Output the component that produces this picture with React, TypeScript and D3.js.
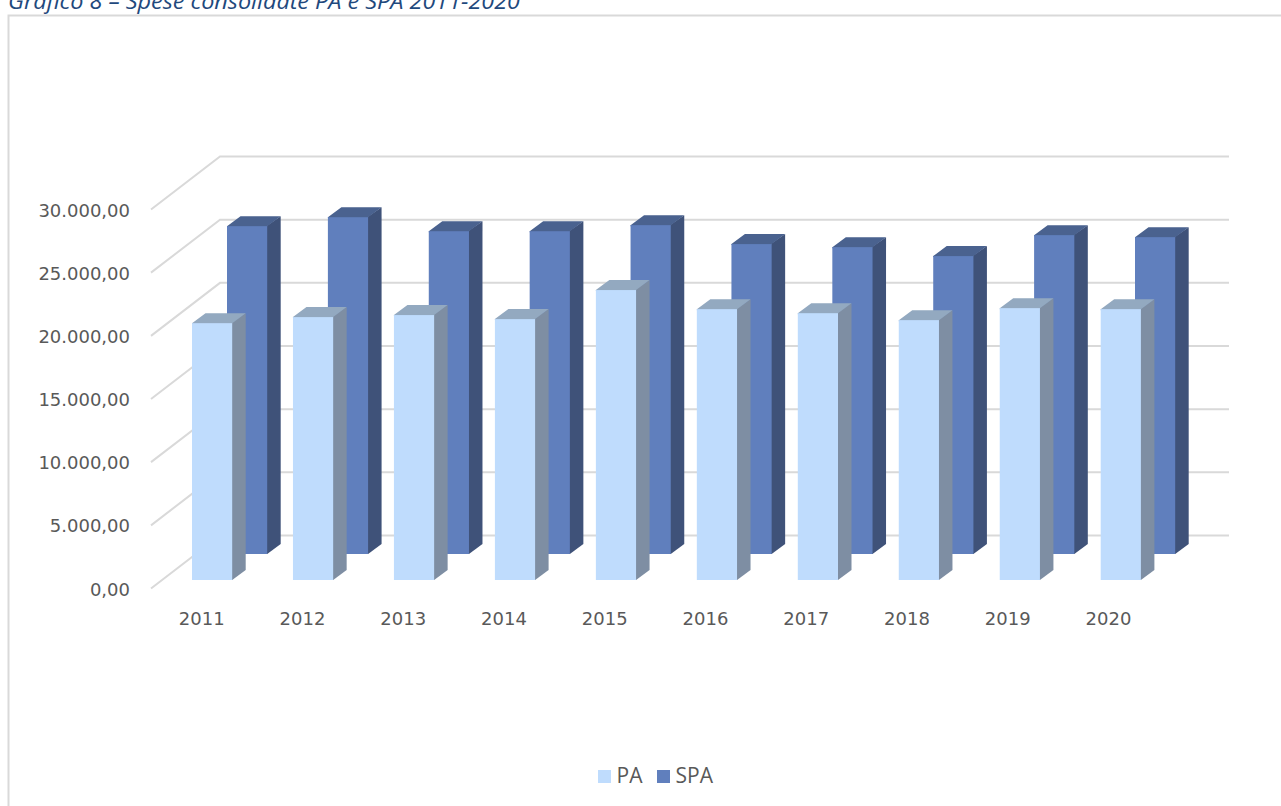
import React from "react";
import * as d3 from "d3";

const years = ["2011","2012","2013","2014","2015","2016","2017","2018","2019","2020"];
const paValues = [20330,20810,20970,20650,22950,21440,21120,20570,21520,21440];
const spaValues = [25950,26660,25550,25550,26030,24530,24290,23580,25240,25080];
const yTicks = [0,5000,10000,15000,20000,25000,30000];
const titleText = "Grafico 8 – Spese consolidate PA e SPA 2011-2020";

const fmt = (v: number) => d3.format(",.2f")(v).replace(/,/g, "#").replace(".", ",").replace(/#/g, ".");

const depthX = 13.5, depthY = 10, barW = 40.2;
const xPA = d3.scaleLinear().domain([0, 9]).range([192, 1100.7]);
const xSPA = d3.scaleLinear().domain([0, 9]).range([227, 1135]);
const xLabel = d3.scaleLinear().domain([0, 9]).range([201.7, 1108.5]);
const h = d3.scaleLinear().domain([0, 30000]).range([0, 379]);
const yWall = (v: number) => 535.5 - h(v);
const yLeft = (v: number) => 588 - h(v);
const yLabel = (v: number) => 595.5 - h(v);

function Bar({ x, base, value, front, top, side }: { x: number; base: number; value: number; front: string; top: string; side: string }) {
  const t = base - h(value);
  const pts = (a: [number, number][]) => a.map((p) => p.join(",")).join(" ");
  const r = x + barW;
  return (
    <g>
      <polygon fill={side} points={pts([[r - 1, t], [r + depthX, t - depthY], [r + depthX, base - depthY], [r, base], [r - 1, base]])} />
      <polygon fill={top} points={pts([[x, t + 1], [x, t], [x + depthX, t - depthY], [r + depthX, t - depthY], [r, t], [r, t + 1]])} />
      <rect x={x} y={t} width={barW} height={base - t} fill={front} />
    </g>
  );
}

export default function App() {
  const font = "'DejaVu Sans', sans-serif";
  const grey = "#595959";
  return (
    <svg width={1281} height={806} style={{ position: "fixed", left: 0, top: 0, background: "#fff" }}>
      <text x={8} y={9} fontFamily="'Open Sans', 'Noto Sans', sans-serif" fontStyle="italic" fontSize={21} fill="#1f497d" textLength={512} lengthAdjust="spacingAndGlyphs">{titleText}</text>
      <path d="M8.5 807V15.5H1282" fill="none" stroke="#d9d9d9" strokeWidth={2} />
      {yTicks.map((v) => (
        <g key={v}>
          <path d={`M151 ${yLeft(v) + 0.5}L220 ${yWall(v)}H1229`} fill="none" stroke="#d9d9d9" strokeWidth={2} />
          <text x={130} y={yLabel(v)} textAnchor="end" fontFamily={font} fontSize={18} fill={grey}>{fmt(v)}</text>
        </g>
      ))}
      {years.map((y, i) => (
        <Bar key={"s" + y} x={xSPA(i)} base={554} value={spaValues[i]} front="#607fbd" top="#4a628f" side="#3f5279" />
      ))}
      {years.map((y, i) => (
        <Bar key={"p" + y} x={xPA(i)} base={580} value={paValues[i]} front="#bfdcfd" top="#93a9c0" side="#7e8ea3" />
      ))}
      {years.map((y, i) => (
        <text key={y} x={xLabel(i)} y={625} textAnchor="middle" fontFamily={font} fontSize={18} fill={grey}>{y}</text>
      ))}
      <rect x={598} y={770} width={13} height={13} fill="#bfdcfd" />
      <text x={616.5} y={782.5} fontFamily="'Open Sans', sans-serif" fontSize={21} fill={grey}>PA</text>
      <rect x={657} y={770} width={13} height={13} fill="#607fbd" />
      <text x={675.5} y={782.5} fontFamily="'Open Sans', sans-serif" fontSize={21} fill={grey}>SPA</text>
    </svg>
  );
}
